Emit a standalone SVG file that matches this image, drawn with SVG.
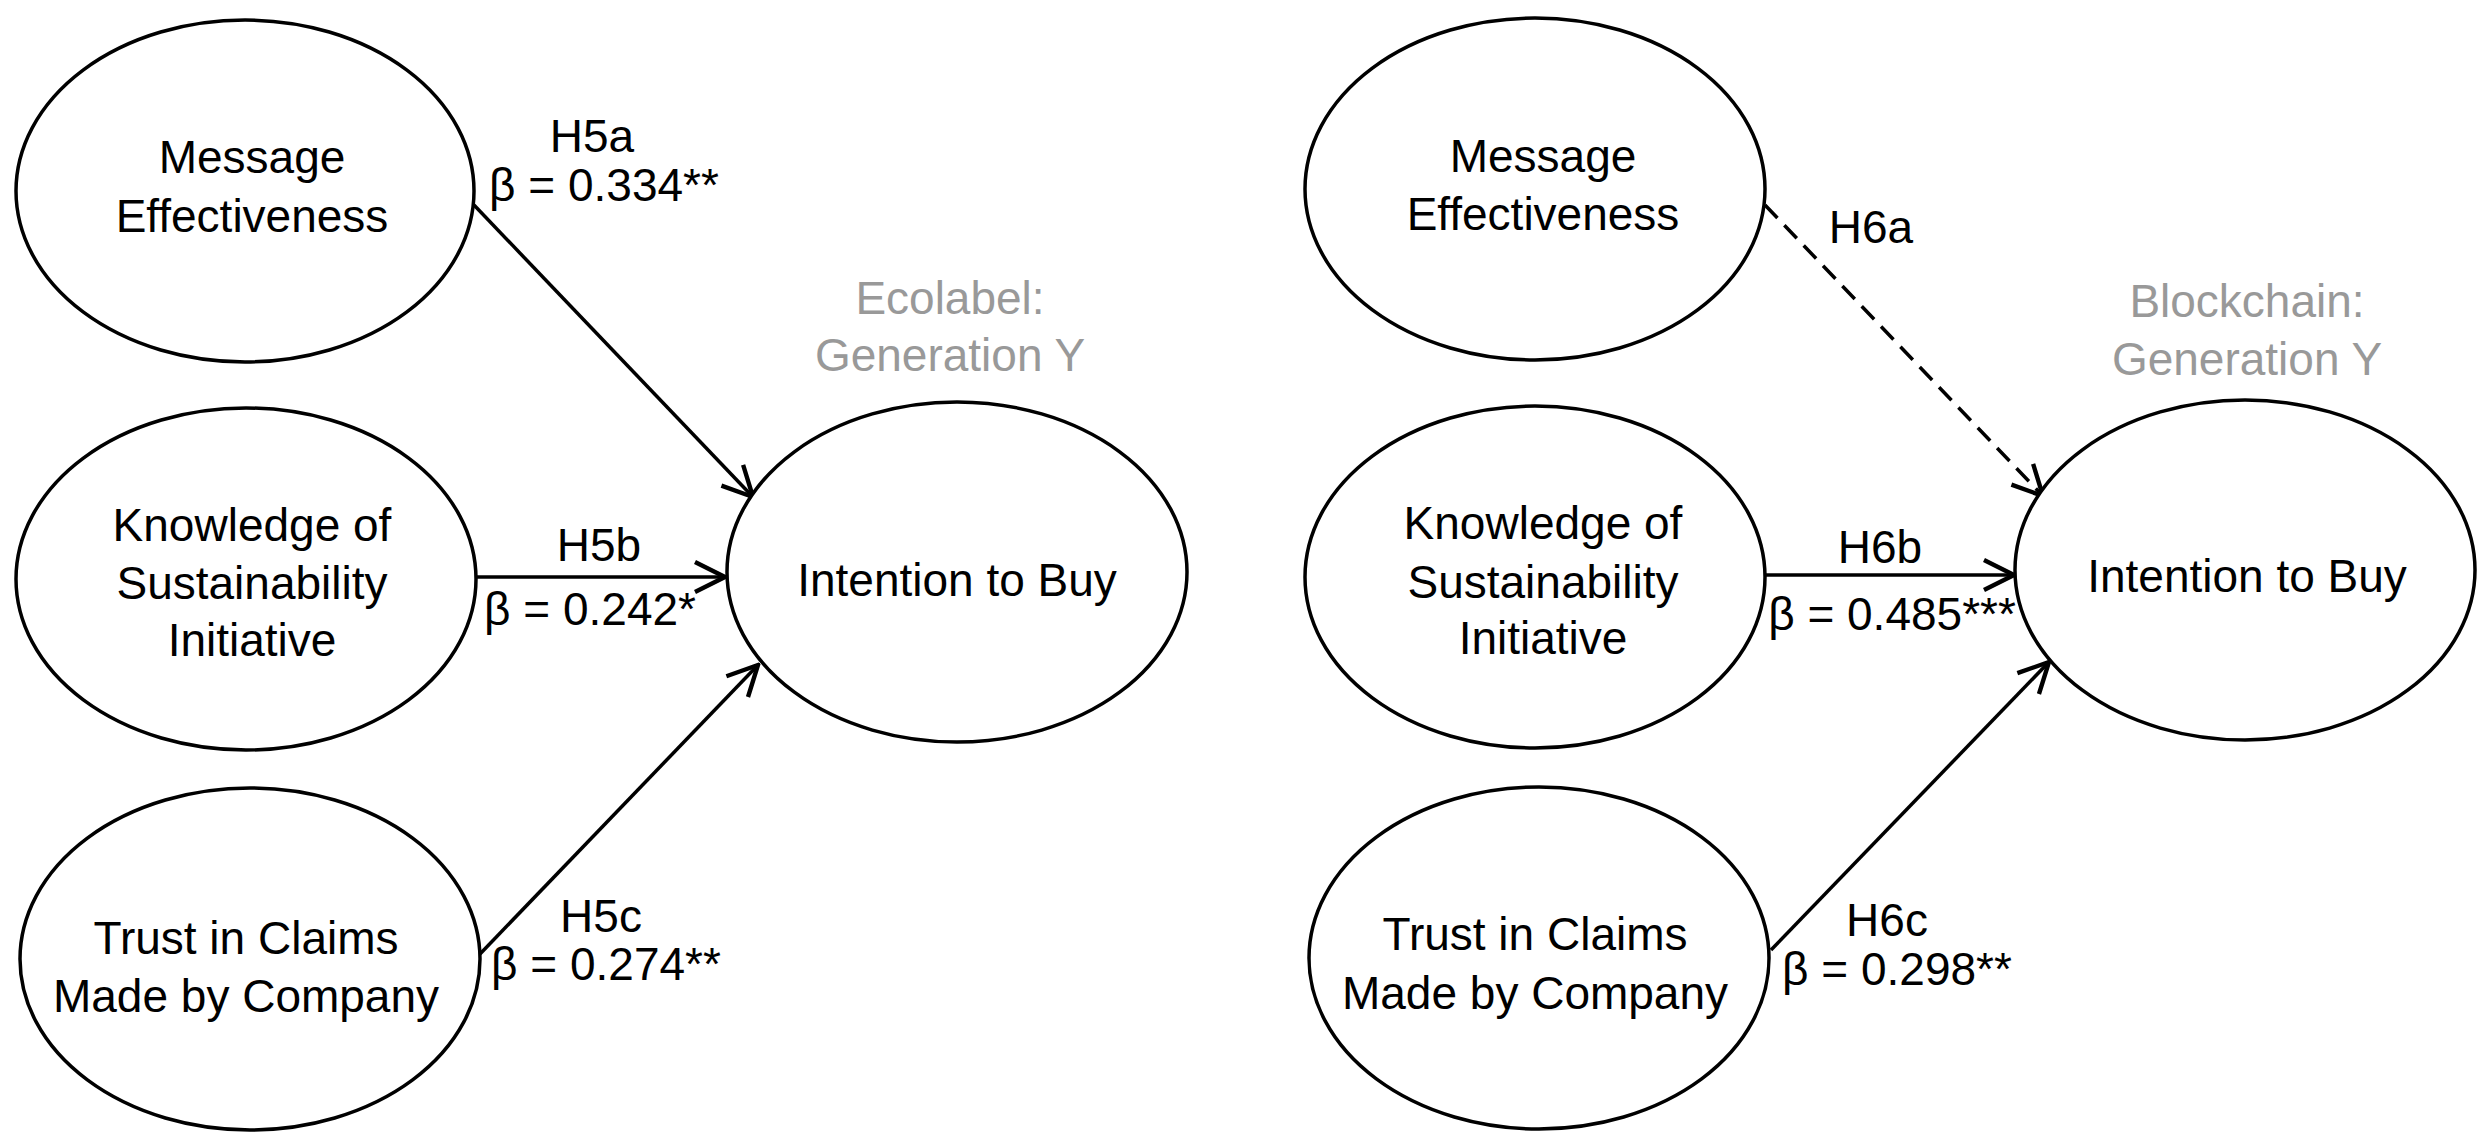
<svg xmlns="http://www.w3.org/2000/svg" width="2489" height="1146" viewBox="0 0 2489 1146">
<style>
ellipse{fill:#fff;stroke:#000;stroke-width:3.5}
text{font-family:"Liberation Sans",Arial,sans-serif;font-size:46px;fill:#000;text-anchor:middle}
.g{fill:#999}
.c line{stroke:#000;stroke-width:3.5;fill:none}
.d{stroke-dasharray:18 10}
</style>
<defs>
<marker id="a" markerUnits="userSpaceOnUse" markerWidth="40" markerHeight="40" viewBox="-30 -15 32 30" refX="0" refY="0" orient="auto">
<polyline points="-24,-12 0,0 -24,12" fill="none" stroke="#000" stroke-width="3.5"/>
</marker>
</defs>
<rect width="2489" height="1146" fill="#fff"/>
<g class="c" id="connectors">
<line x1="474" y1="205" x2="753" y2="497" marker-end="url(#a)"/>
<line x1="476" y1="577" x2="725" y2="577" marker-end="url(#a)"/>
<line x1="480" y1="954" x2="758" y2="665" marker-end="url(#a)"/>
<line class="d" x1="1765" y1="205" x2="2043" y2="496" marker-end="url(#a)"/>
<line x1="1765" y1="575" x2="2014" y2="575" marker-end="url(#a)"/>
<line x1="1771" y1="950" x2="2049" y2="662" marker-end="url(#a)"/>
</g>
<g id="L_ME"><ellipse cx="245" cy="191" rx="229" ry="171"/><text x="252" y="173">Message</text><text x="252" y="232">Effectiveness</text></g>
<g id="L_KSI"><ellipse cx="246" cy="579" rx="230" ry="171"/><text x="252" y="541">Knowledge of</text><text x="252" y="599">Sustainability</text><text x="252" y="656">Initiative</text></g>
<g id="L_TC"><ellipse cx="250" cy="959" rx="230" ry="171"/><text x="246" y="954">Trust in Claims</text><text x="246" y="1012">Made by Company</text></g>
<g id="L_IB"><ellipse cx="957" cy="572" rx="230" ry="170"/><text x="957" y="596">Intention to Buy</text></g>
<g id="L_title"><text class="g" x="950" y="314">Ecolabel:</text><text class="g" x="950" y="371">Generation Y</text></g>
<g id="L_labels">
<text x="592" y="152">H5a</text><text x="604" y="201">β = 0.334**</text>
<text x="599" y="561">H5b</text><text x="590" y="625">β = 0.242*</text>
<text x="601" y="932">H5c</text><text x="606" y="980">β = 0.274**</text>
</g>
<g id="R_ME"><ellipse cx="1535" cy="189" rx="230" ry="171"/><text x="1543" y="172">Message</text><text x="1543" y="230">Effectiveness</text></g>
<g id="R_KSI"><ellipse cx="1535" cy="577" rx="230" ry="171"/><text x="1543" y="539">Knowledge of</text><text x="1543" y="598">Sustainability</text><text x="1543" y="654">Initiative</text></g>
<g id="R_TC"><ellipse cx="1539" cy="958" rx="230" ry="171"/><text x="1535" y="950">Trust in Claims</text><text x="1535" y="1009">Made by Company</text></g>
<g id="R_IB"><ellipse cx="2245" cy="570" rx="230" ry="170"/><text x="2247" y="592">Intention to Buy</text></g>
<g id="R_title"><text class="g" x="2247" y="317">Blockchain:</text><text class="g" x="2247" y="375">Generation Y</text></g>
<g id="R_labels">
<text x="1871" y="243">H6a</text>
<text x="1880" y="563">H6b</text><text x="1892" y="630">β = 0.485***</text>
<text x="1887" y="936">H6c</text><text x="1897" y="985">β = 0.298**</text>
</g>
</svg>
